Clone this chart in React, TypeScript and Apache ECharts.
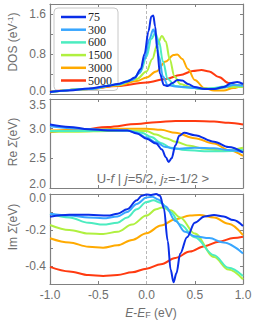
import React, { useEffect, useRef } from 'react';
import * as echarts from 'echarts';

const temps = ['75', '300', '600', '1500', '3000', '5000'];
const colors = ['#0a2ee8', '#38a6ff', '#4cecc0', '#b0f040', '#ffaa00', '#ff3a10'];

// Panel 1: DOS
const dos75 = [[-1, 0.04], [-0.8, 0.07], [-0.6, 0.11], [-0.4, 0.16], [-0.3, 0.2], [-0.2, 0.25], [-0.12, 0.33], [-0.06, 0.5], [-0.02, 0.8], [0.02, 1.25], [0.05, 1.55], [0.07, 1.57], [0.09, 1.35], [0.11, 0.9], [0.14, 0.4], [0.18, 0.18], [0.22, 0.16], [0.27, 0.22], [0.32, 0.28], [0.37, 0.27], [0.43, 0.2], [0.5, 0.14], [0.6, 0.1], [0.7, 0.1], [0.8, 0.14], [0.88, 0.22], [0.94, 0.24], [1, 0.2]];
const dos300 = [[-1, 0.04], [-0.6, 0.1], [-0.3, 0.19], [-0.15, 0.28], [-0.07, 0.42], [-0.02, 0.7], [0.03, 1.1], [0.07, 1.29], [0.1, 1.15], [0.13, 0.75], [0.17, 0.35], [0.22, 0.18], [0.3, 0.15], [0.4, 0.14], [0.5, 0.12], [0.6, 0.1], [0.7, 0.1], [0.8, 0.13], [0.9, 0.18], [1, 0.17]];
const dos600 = [[-1, 0.04], [-0.6, 0.1], [-0.3, 0.19], [-0.15, 0.28], [-0.06, 0.45], [0, 0.75], [0.05, 1.1], [0.09, 1.22], [0.13, 1.05], [0.17, 0.65], [0.22, 0.3], [0.3, 0.16], [0.4, 0.13], [0.5, 0.12], [0.6, 0.11], [0.7, 0.12], [0.8, 0.15], [0.9, 0.18], [1, 0.16]];
const dos1500 = [[-1, 0.04], [-0.6, 0.1], [-0.3, 0.18], [-0.1, 0.3], [0, 0.45], [0.06, 0.7], [0.11, 0.98], [0.16, 1.16], [0.2, 1.05], [0.24, 0.7], [0.29, 0.35], [0.35, 0.2], [0.45, 0.14], [0.55, 0.1], [0.7, 0.1], [0.85, 0.14], [1, 0.14]];
const dos3000 = [[-1, 0.04], [-0.6, 0.1], [-0.3, 0.17], [-0.1, 0.26], [0, 0.33], [0.1, 0.45], [0.2, 0.65], [0.28, 0.78], [0.32, 0.79], [0.37, 0.7], [0.43, 0.5], [0.5, 0.28], [0.6, 0.12], [0.7, 0.07], [0.8, 0.07], [0.9, 0.12], [1, 0.18]];
const dos5000 = [[-1, 0.05], [-0.6, 0.1], [-0.3, 0.16], [0, 0.23], [0.2, 0.3], [0.35, 0.38], [0.48, 0.46], [0.57, 0.48], [0.65, 0.45], [0.75, 0.34], [0.85, 0.22], [0.95, 0.17], [1, 0.16]];

// Panel 2: Re Sigma
const re75 = [[-1, 3.07], [-0.8, 3.03], [-0.6, 2.99], [-0.4, 2.97], [-0.2, 2.97], [-0.1, 2.92], [0, 2.83], [0.1, 2.75], [0.16, 2.65], [0.2, 2.52], [0.23, 2.44], [0.26, 2.5], [0.3, 2.72], [0.34, 2.88], [0.39, 2.93], [0.5, 2.89], [0.7, 2.78], [0.85, 2.69], [1, 2.6]];
const re300 = [[-1, 3.04], [-0.7, 3.0], [-0.4, 2.98], [-0.2, 2.97], [-0.1, 2.93], [0, 2.85], [0.1, 2.77], [0.2, 2.69], [0.3, 2.66], [0.5, 2.68], [0.7, 2.67], [0.85, 2.64], [1, 2.6]];
const re600 = [[-1, 2.96], [-0.7, 2.96], [-0.4, 2.97], [-0.2, 2.97], [-0.05, 2.93], [0.05, 2.86], [0.15, 2.76], [0.25, 2.68], [0.4, 2.64], [0.6, 2.62], [0.8, 2.62], [1, 2.64]];
const re1500 = [[-1, 2.95], [-0.7, 2.95], [-0.4, 2.96], [-0.2, 2.97], [0, 2.96], [0.1, 2.9], [0.2, 2.84], [0.3, 2.78], [0.45, 2.71], [0.6, 2.66], [0.8, 2.63], [1, 2.68]];
const re3000 = [[-1, 2.97], [-0.6, 2.98], [-0.3, 3.0], [0, 3.0], [0.15, 2.98], [0.3, 2.93], [0.5, 2.84], [0.7, 2.75], [0.85, 2.64], [1, 2.54]];
const re5000 = [[-1, 2.94], [-0.7, 2.98], [-0.4, 3.03], [-0.1, 3.08], [0.1, 3.11], [0.3, 3.13], [0.5, 3.13], [0.7, 3.12], [0.85, 3.1], [1, 3.07]];

// Panel 3: Im Sigma
const im75 = [[-1, -0.126], [-0.8, -0.115], [-0.6, -0.115], [-0.4, -0.12], [-0.3, -0.11], [-0.2, -0.085], [-0.1, -0.035], [-0.05, -0.01], [0, -0.003], [0.05, -0.005], [0.1, 0], [0.14, -0.01], [0.18, -0.08], [0.22, -0.26], [0.25, -0.42], [0.28, -0.49], [0.31, -0.44], [0.35, -0.33], [0.42, -0.24], [0.5, -0.16], [0.6, -0.125], [0.7, -0.117], [0.8, -0.125], [0.9, -0.145], [1, -0.178]];
const im300 = [[-1, -0.11], [-0.8, -0.12], [-0.6, -0.13], [-0.45, -0.135], [-0.3, -0.125], [-0.2, -0.1], [-0.1, -0.055], [0, -0.02], [0.06, -0.015], [0.12, -0.03], [0.2, -0.07], [0.3, -0.15], [0.4, -0.21], [0.5, -0.235], [0.65, -0.245], [0.8, -0.27], [1, -0.33]];
const im600 = [[-1, -0.11], [-0.8, -0.13], [-0.6, -0.16], [-0.45, -0.17], [-0.3, -0.16], [-0.2, -0.13], [-0.1, -0.085], [0, -0.045], [0.07, -0.035], [0.15, -0.05], [0.25, -0.1], [0.35, -0.17], [0.5, -0.24], [0.7, -0.34], [0.85, -0.41], [1, -0.455]];
const im1500 = [[-1, -0.172], [-0.8, -0.2], [-0.6, -0.22], [-0.45, -0.222], [-0.3, -0.21], [-0.15, -0.17], [0, -0.12], [0.1, -0.085], [0.16, -0.075], [0.25, -0.09], [0.35, -0.13], [0.5, -0.22], [0.7, -0.35], [0.85, -0.42], [1, -0.474]];
const im3000 = [[-1, -0.246], [-0.8, -0.27], [-0.6, -0.293], [-0.45, -0.298], [-0.3, -0.285], [-0.15, -0.255], [0, -0.218], [0.15, -0.175], [0.3, -0.14], [0.45, -0.12], [0.55, -0.117], [0.7, -0.13], [0.85, -0.165], [1, -0.228]];
const im5000 = [[-1, -0.405], [-0.8, -0.43], [-0.6, -0.45], [-0.45, -0.455], [-0.3, -0.45], [-0.15, -0.435], [0, -0.415], [0.15, -0.39], [0.3, -0.355], [0.45, -0.32], [0.6, -0.29], [0.75, -0.265], [0.9, -0.245], [1, -0.237]];

const panelData = [
  [dos75, dos300, dos600, dos1500, dos3000, dos5000],
  [re75, re300, re600, re1500, re3000, re5000],
  [im75, im300, im600, im1500, im3000, im5000],
];

const xTicks = { min: -1, max: 1, interval: 0.5 };
const yLabels1 = [0, 0.8, 1.6];
const yLabels2 = [2, 2.5, 3, 3.5];
const yLabels3 = [0, -0.2, -0.4];
const yAxesCfg = [
  { min: 0, max: 1.8, interval: 0.4, labels: yLabels1, shifts: [[0, -3]] },
  { min: 2, max: 3.5, interval: 0.5, labels: yLabels2, shifts: [[2, -4], [3.5, 6]] },
  { min: -0.5, max: 0, interval: 0.1, labels: yLabels3, shifts: [[0, 4]] },
];

const FRAME = '#808080';
const TXT = '#6e6e6e';
const SANS = '"Liberation Sans", Arial, sans-serif';

export default function App() {
  const ref = useRef<HTMLDivElement>(null);
  useEffect(() => {
    if (!ref.current) return;
    const chart = echarts.init(ref.current, null, { renderer: 'svg' });
    const grids = [
      { left: 50, top: 4, width: 193, height: 90 },
      { left: 50, top: 99, width: 193, height: 89 },
      { left: 50, top: 194, width: 193, height: 90 },
    ];
    const xAxis: any[] = [];
    const yAxis: any[] = [];
    grids.forEach((g, i) => {
      const common = {
        type: 'value', gridIndex: i, min: xTicks.min, max: xTicks.max, interval: xTicks.interval,
        axisLine: { show: true, onZero: false, lineStyle: { color: FRAME, width: 1.2 } },
        axisTick: { show: true, inside: true, length: 3, lineStyle: { color: FRAME } },
        splitLine: { show: false },
      };
      xAxis.push({
        ...common, position: 'bottom',
        axisLabel: { show: i === 2, color: TXT, fontSize: 12, fontFamily: SANS, margin: 5, formatter: (v: number) => v.toFixed(1) },
      });
      xAxis.push({ ...common, position: 'top', axisLabel: { show: false } });
      const yc = yAxesCfg[i];
      const rich: Record<string, any> = {};
      yc.shifts.forEach(([, sh], k) => {
        rich['s' + k] = {
          fontSize: 12, fontFamily: SANS, color: TXT,
          padding: sh > 0 ? [sh * 2, 0, 0, 0] : [0, 0, -sh * 2, 0],
        };
      });
      const ycommon = {
        type: 'value', gridIndex: i, min: yc.min, max: yc.max, interval: yc.interval,
        axisLine: { show: true, onZero: false, lineStyle: { color: FRAME, width: 1.2 } },
        axisTick: { show: true, inside: true, length: 3, lineStyle: { color: FRAME } },
        splitLine: { show: false },
      };
      yAxis.push({
        ...ycommon, position: 'left',
        axisLabel: {
          show: true, color: TXT, fontSize: 12, fontFamily: SANS, margin: 4,
          formatter: (v: number) => {
            const hit = yc.labels.find((l) => Math.abs(l - v) < 1e-6);
            if (hit === undefined) return '';
            const txt = (Math.abs(hit) < 1e-9 ? 0 : hit).toFixed(1);
            const k = yc.shifts.findIndex(([val]) => Math.abs(val - hit) < 1e-6);
            return k >= 0 ? '{s' + k + '|' + txt + '}' : txt;
          },
          rich,
        },
      });
      yAxis.push({ ...ycommon, position: 'right', axisLabel: { show: false } });
    });

    const series: any[] = [];
    panelData.forEach((arrs, p) => {
      for (let k = arrs.length - 1; k >= 0; k--) {
        const s: any = {
          type: 'line', name: temps[k], xAxisIndex: p * 2, yAxisIndex: p * 2,
          data: arrs[k], showSymbol: false, symbol: 'none', smooth: 0.35, smoothMonotone: 'x',
          lineStyle: { color: colors[k], width: 2 }, itemStyle: { color: colors[k] },
          z: 3 + (arrs.length - k),
        };
        if (k === arrs.length - 1) {
          s.markLine = {
            silent: true, symbol: 'none', animation: false,
            label: { show: false },
            lineStyle: { color: '#b8b8b8', type: [3, 2], width: 1 },
            data: [{ xAxis: 0 }],
            z: 1,
          };
        }
        series.push(s);
      }
    });

    chart.setOption({
      animation: false,
      backgroundColor: '#fff',
      textStyle: { fontFamily: SANS },
      grid: grids,
      xAxis,
      yAxis,
      legend: {
        data: temps,
        orient: 'vertical',
        left: 54, top: 8,
        icon: 'rect',
        itemWidth: 25, itemHeight: 2.5, itemGap: 0.7,
        padding: [3, 6, 4, 7],
        backgroundColor: 'rgba(255,255,255,0.95)',
        borderColor: '#c8c8c8', borderWidth: 1, borderRadius: 4,
        textStyle: { fontFamily: '"Liberation Serif", "DejaVu Serif", serif', fontSize: 12, color: '#222', lineHeight: 10, padding: [0, 0, 0, -3] },
        selectedMode: false,
      },
      graphic: [
        {
          type: 'text', x: 12.5, y: 42, rotation: Math.PI / 2,
          style: {
            text: '{a|DOS (eV}{s|-1}{a|)}', align: 'center', verticalAlign: 'middle',
            rich: {
              a: { fontSize: 12, fontFamily: SANS, fill: TXT },
              s: { fontSize: 8, fontFamily: SANS, fill: TXT, verticalAlign: 'top', padding: [0, 0, 5, 0] },
            },
          },
        },
        {
          type: 'text', x: 13, y: 142, rotation: Math.PI / 2,
          style: {
            text: '{a|Re }{i|Σ}{a|(eV)}', align: 'center', verticalAlign: 'middle',
            rich: {
              a: { fontSize: 12, fontFamily: SANS, fill: TXT },
              i: { fontSize: 12, fontFamily: SANS, fill: TXT, fontStyle: 'italic' },
            },
          },
        },
        {
          type: 'text', x: 13, y: 227, rotation: Math.PI / 2,
          style: {
            text: '{a|Im }{i|Σ}{a|(eV)}', align: 'center', verticalAlign: 'middle',
            rich: {
              a: { fontSize: 12, fontFamily: SANS, fill: TXT },
              i: { fontSize: 12, fontFamily: SANS, fill: TXT, fontStyle: 'italic' },
            },
          },
        },
        {
          type: 'text', x: 151, y: 313,
          style: {
            text: '{i|E}{a|-}{i|E}{s|F}{a| (eV)}', align: 'center', verticalAlign: 'middle',
            rich: {
              a: { fontSize: 12, fontFamily: SANS, fill: TXT },
              i: { fontSize: 12, fontFamily: SANS, fill: TXT, fontStyle: 'italic' },
              s: { fontSize: 9, fontFamily: SANS, fill: TXT, padding: [3, 0, 0, 0] },
            },
          },
        },
        {
          type: 'text', x: 153, y: 178, z: 10,
          style: {
            text: '{a|U-}{i|f}{a| | }{i|j}{a|=5/2, }{i|j}{s|z}{a|=-1/2 >}', align: 'center', verticalAlign: 'middle',
            rich: {
              a: { fontSize: 13, fontFamily: SANS, fill: TXT },
              i: { fontSize: 13, fontFamily: SANS, fill: TXT, fontStyle: 'italic' },
              s: { fontSize: 9, fontFamily: SANS, fill: TXT, padding: [4, 0, 0, 0] },
            },
          },
        },
      ],
      series,
    });
    return () => chart.dispose();
  }, []);
  return <div ref={ref} style={{ position: 'fixed', left: 0, top: 0, width: 258, height: 330 }} />;
}
